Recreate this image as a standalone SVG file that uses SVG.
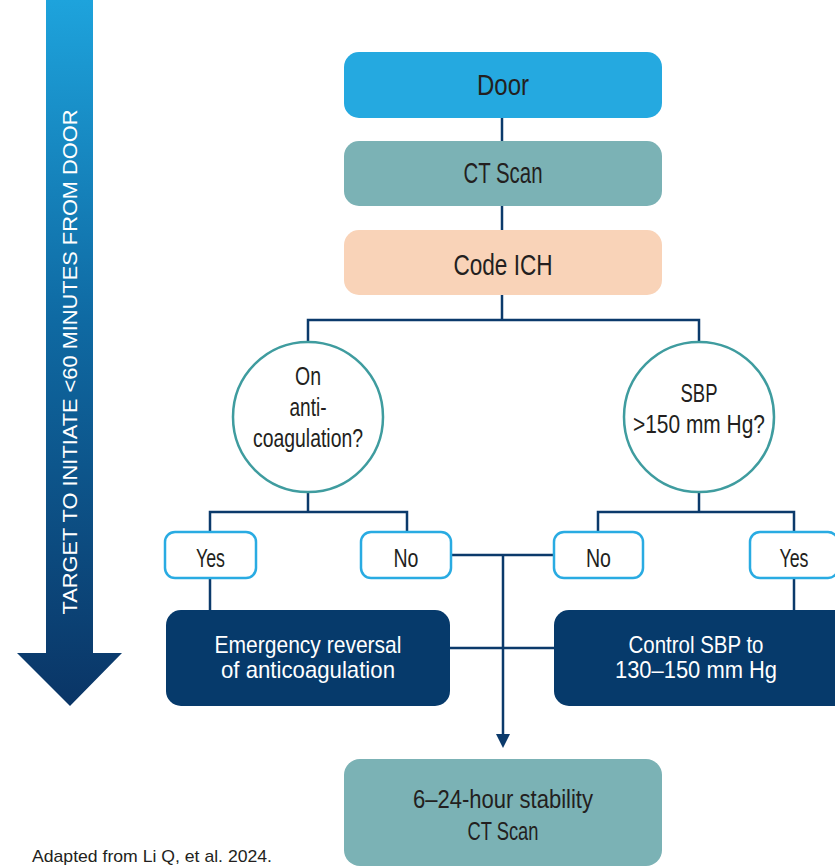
<svg xmlns="http://www.w3.org/2000/svg" width="835" height="867" viewBox="0 0 835 867">
<defs>
<linearGradient id="arrowGrad" x1="0" y1="0" x2="0" y2="1">
<stop offset="0" stop-color="#1ea3dc"/>
<stop offset="0.45" stop-color="#0f6aa3"/>
<stop offset="1" stop-color="#0a3566"/>
</linearGradient>
<marker id="ah" markerWidth="14" markerHeight="14" refX="10" refY="7" orient="auto" markerUnits="userSpaceOnUse" viewBox="0 0 14 14">
<path d="M0,0 L14,7 L0,14 Z" fill="#0b3a6b"/>
</marker>
<style>
.t{font-family:"Liberation Sans Narrow","Liberation Sans",Arial,sans-serif;fill:#231f20;text-anchor:middle}
.w{fill:#ffffff}
.ln{stroke:#0b3a6b;stroke-width:2.5;fill:none}
.yn{fill:#ffffff;stroke:#29abe2;stroke-width:2.5}
.circ{fill:#ffffff;stroke:#3f9c9f;stroke-width:2.5}
.act{fill:#063a6b}
</style>
</defs>
<rect width="835" height="867" fill="#ffffff"/>

<g id="timeline">
<path d="M46,0 L93,0 L93,653 L122,653 L70,706 L17,653 L46,653 Z" fill="url(#arrowGrad)"/>
<text class="t w" font-size="21" transform="translate(77,362) rotate(-90)" textLength="505" lengthAdjust="spacingAndGlyphs">TARGET TO INITIATE  &lt;60 MINUTES FROM DOOR</text>
</g>

<g id="connectors">
<line class="ln" x1="502" y1="118" x2="502" y2="141"/>
<line class="ln" x1="502" y1="206" x2="502" y2="230"/>
<line class="ln" x1="502" y1="295" x2="502" y2="320"/>
<polyline class="ln" points="308,342 308,320 699,320 699,342"/>
<line class="ln" x1="308" y1="492" x2="308" y2="512"/>
<polyline class="ln" points="210,532 210,512 407,512 407,532"/>
<line class="ln" x1="699" y1="492" x2="699" y2="512"/>
<polyline class="ln" points="598,532 598,512 794,512 794,532"/>
<line class="ln" x1="451" y1="555" x2="554" y2="555"/>
<line class="ln" x1="450" y1="648" x2="554" y2="648"/>
<line class="ln" x1="210" y1="578" x2="210" y2="610"/>
<line class="ln" x1="794" y1="578" x2="794" y2="610"/>
<line class="ln" x1="503" y1="555" x2="503" y2="744" marker-end="url(#ah)"/>
</g>

<g id="door">
<rect x="344" y="52" width="318" height="66" rx="15" fill="#25a9e0"/>
<text class="t" x="503" y="95" font-size="30" textLength="52" lengthAdjust="spacingAndGlyphs">Door</text>
</g>
<g id="ctscan">
<rect x="344" y="141" width="318" height="65" rx="15" fill="#7bb2b5"/>
<text class="t" x="503" y="183" font-size="30" textLength="79" lengthAdjust="spacingAndGlyphs">CT Scan</text>
</g>
<g id="codeich">
<rect x="344" y="230" width="318" height="65" rx="15" fill="#f9d3b8"/>
<text class="t" x="503" y="275" font-size="30" textLength="99" lengthAdjust="spacingAndGlyphs">Code ICH</text>
</g>

<g id="q-anticoag">
<circle class="circ" cx="308" cy="417" r="75"/>
<text class="t" x="308" y="385" font-size="25" textLength="26" lengthAdjust="spacingAndGlyphs">On</text>
<text class="t" x="308" y="416" font-size="25" textLength="37" lengthAdjust="spacingAndGlyphs">anti-</text>
<text class="t" x="308" y="447" font-size="25" textLength="110" lengthAdjust="spacingAndGlyphs">coagulation?</text>
</g>
<g id="q-sbp">
<circle class="circ" cx="699" cy="417" r="75"/>
<text class="t" x="699" y="402" font-size="25" textLength="37" lengthAdjust="spacingAndGlyphs">SBP</text>
<text class="t" x="699" y="433" font-size="25" textLength="132" lengthAdjust="spacingAndGlyphs">&gt;150 mm Hg?</text>
</g>

<g id="yes-left">
<rect class="yn" x="165" y="532" width="91" height="46" rx="10"/>
<text class="t" x="210.5" y="567" font-size="25" textLength="29" lengthAdjust="spacingAndGlyphs">Yes</text>
</g>
<g id="no-left">
<rect class="yn" x="361" y="532" width="90" height="46" rx="10"/>
<text class="t" x="406" y="567" font-size="25" textLength="25" lengthAdjust="spacingAndGlyphs">No</text>
</g>
<g id="no-right">
<rect class="yn" x="554" y="532" width="89" height="46" rx="10"/>
<text class="t" x="598.5" y="567" font-size="25" textLength="25" lengthAdjust="spacingAndGlyphs">No</text>
</g>
<g id="yes-right">
<rect class="yn" x="750" y="532" width="88" height="46" rx="10"/>
<text class="t" x="794" y="567" font-size="25" textLength="29" lengthAdjust="spacingAndGlyphs">Yes</text>
</g>

<g id="reversal">
<rect class="act" x="166" y="610" width="284" height="96" rx="15"/>
<text class="t w" x="308" y="653" font-size="24" textLength="187" lengthAdjust="spacingAndGlyphs">Emergency reversal</text>
<text class="t w" x="308" y="678" font-size="24" textLength="174" lengthAdjust="spacingAndGlyphs">of anticoagulation</text>
</g>
<g id="control-sbp">
<rect class="act" x="554" y="610" width="296" height="96" rx="15"/>
<text class="t w" x="696" y="653" font-size="24" textLength="135" lengthAdjust="spacingAndGlyphs">Control SBP to</text>
<text class="t w" x="696" y="678" font-size="24" textLength="162" lengthAdjust="spacingAndGlyphs">130–150 mm Hg</text>
</g>

<g id="stability-ct">
<rect x="344" y="759" width="318" height="107" rx="16" fill="#7bb2b5"/>
<text class="t" x="503" y="808" font-size="26" textLength="180" lengthAdjust="spacingAndGlyphs">6–24-hour stability</text>
<text class="t" x="503" y="840" font-size="26" textLength="71" lengthAdjust="spacingAndGlyphs">CT Scan</text>
</g>

<text class="t" x="32" y="862" font-size="17" style="text-anchor:start" textLength="240" lengthAdjust="spacingAndGlyphs">Adapted from Li Q, et al. 2024.</text>
</svg>
